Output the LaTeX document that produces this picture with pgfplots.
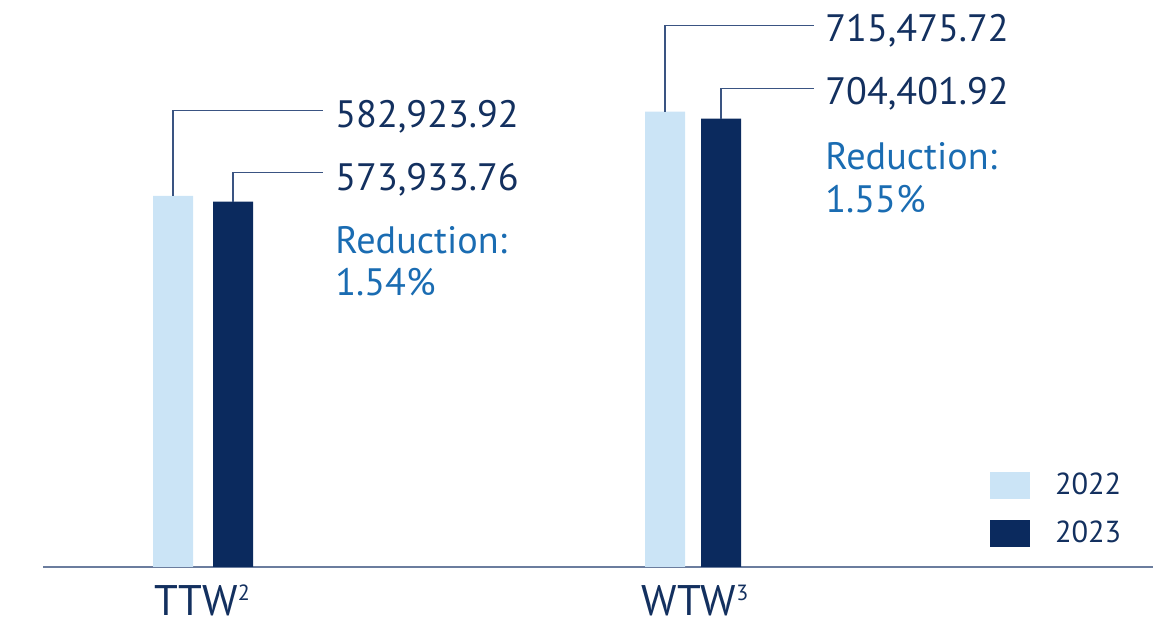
\documentclass[border=0pt]{standalone}
\usepackage{fontspec}
\setmainfont{PT Sans}
\usepackage{pgfplots}
\pgfplotsset{compat=1.18}
\definecolor{lightb}{HTML}{CBE4F6}
\definecolor{darkb}{HTML}{0B2A5E}
\definecolor{navy}{HTML}{13305F}
\definecolor{redblue}{HTML}{1A6CB2}
\definecolor{axisc}{HTML}{6B7D9E}
\definecolor{leader}{HTML}{3A5482}
\newcommand\numfont{\fontsize{19.1}{23}\selectfont}
\newcommand\tickfont{\fontsize{21.4}{25}\selectfont}
\newcommand\legfont{\fontsize{15.2}{18}\selectfont}
\newcommand\sups[1]{\raisebox{7.4pt}{\fontsize{11}{11}\selectfont #1}}
\begin{document}
\begin{tikzpicture}
\useasboundingbox (0,0) rectangle (576.5pt,310.5pt);
\begin{axis}[
  at={(21.5pt,27pt)}, anchor=south west,
  scale only axis, width=555pt, height=283.5pt,
  xmin=43, xmax=1153, ymin=0, ymax=890870,
  axis x line*=bottom, axis y line=none,
  x axis line style={color=axisc, line width=1pt},
  ytick=\empty, scaled y ticks=false,
  xtick={202,695},
  xticklabels={TTW\sups{2}, WTW\sups{3}},
  major tick length=0pt,
  xticklabel style={font=\tickfont, text=navy, inner sep=0pt, text depth=0pt, anchor=base, yshift=-24.35pt},
  clip=false,
  legend style={at={(axis cs:990,149264)}, anchor=north west, draw=none, fill=none,
    inner sep=0pt, outer sep=0pt, row sep=10.5pt, column sep=12.5pt,
    font=\legfont, nodes={inner sep=0pt, text=navy}},
  legend cell align=left,
]
\addplot[ybar, bar width=20pt, fill=lightb, draw=none,
  legend image code/.code={\fill[lightb] (0pt,-6.75pt) rectangle (20pt,6.75pt);}]
  coordinates {(173,582923.92) (665,715475.72)};
\addlegendentry{2022}
\addplot[ybar, bar width=20pt, fill=darkb, draw=none,
  legend image code/.code={\fill[darkb] (0pt,-6.75pt) rectangle (20pt,6.75pt);}]
  coordinates {(233,573933.76) (721,704401.92)};
\addlegendentry{2023}

\draw[leader, line width=0.65pt] (axis cs:173,582923.92) |- (axis cs:323,717567);
\draw[leader, line width=0.65pt] (axis cs:233,573933.76) |- (axis cs:323,620153);
\draw[leader, line width=0.65pt] (axis cs:665,715475.72) |- (axis cs:814,850490);
\draw[leader, line width=0.65pt] (axis cs:721,704401.92) |- (axis cs:814,752133);

\node[anchor=base west, inner sep=0pt, text=navy, font=\numfont] at (axis cs:335,690857) {582,923.92};
\node[anchor=base west, inner sep=0pt, text=navy, font=\numfont] at (axis cs:335,592342) {573,933.76};
\node[anchor=base west, inner sep=0pt, text=navy, font=\numfont] at (axis cs:825,825352) {715,475.72};
\node[anchor=base west, inner sep=0pt, text=navy, font=\numfont] at (axis cs:825,726994) {704,401.92};
\node[anchor=base west, inner sep=0pt, text=redblue, font=\numfont] at (axis cs:335,492885) {Reduction:};
\node[anchor=base west, inner sep=0pt, text=redblue, font=\numfont] at (axis cs:335,427366) {1.54\%};
\node[anchor=base west, inner sep=0pt, text=redblue, font=\numfont] at (axis cs:825,624866) {Reduction:};
\node[anchor=base west, inner sep=0pt, text=redblue, font=\numfont] at (axis cs:825,556676) {1.55\%};
\end{axis}
\end{tikzpicture}
\end{document}
